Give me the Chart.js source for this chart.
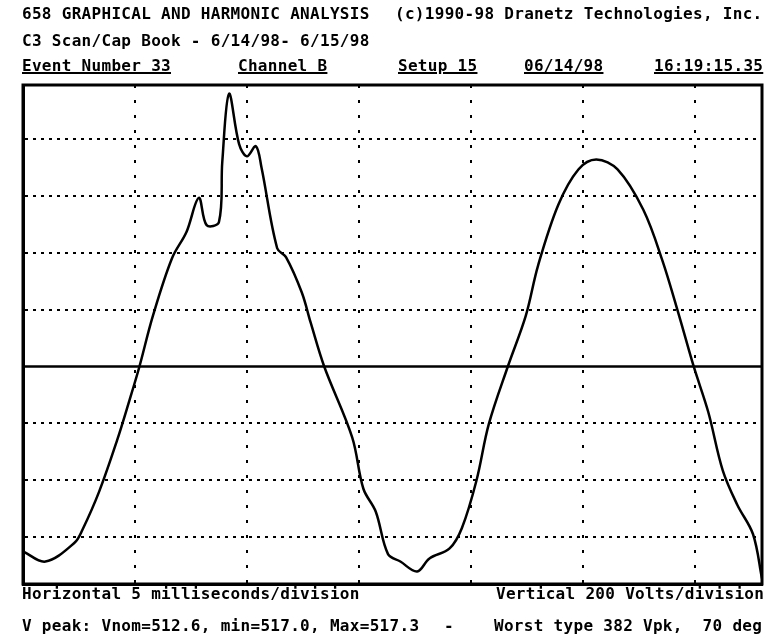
<!DOCTYPE html>
<html>
<head>
<meta charset="utf-8">
<script src="https://cdn.jsdelivr.net/npm/chart.js@4.4.0/dist/chart.umd.min.js"></script>
<style>
  body { margin: 0; background: #fff; }
  #wrap { position: relative; width: 767px; height: 642px; overflow: hidden; }
  #wrap canvas { position: absolute; left: 0; top: 0; }
  .t {
    position: absolute; white-space: pre; color: #000;
    font-family: 'DejaVu Sans Mono', monospace; font-weight: bold;
    font-size: 16px; line-height: 16px; letter-spacing: 0.3px;
  }
  .u { text-decoration: underline; text-decoration-thickness: 2px; }
</style>
</head>
<body>
<div id="wrap">
  <canvas id="scope" width="767" height="642"></canvas>
  <div class="t" style="left:22px;top:6px">658 GRAPHICAL AND HARMONIC ANALYSIS</div>
  <div class="t" style="left:395px;top:6px">(c)1990-98 Dranetz Technologies, Inc.</div>
  <div class="t" style="left:22px;top:33px">C3 Scan/Cap Book - 6/14/98- 6/15/98</div>
  <div class="t u" style="left:22px;top:58px">Event Number 33</div>
  <div class="t u" style="left:238px;top:58px">Channel B</div>
  <div class="t u" style="left:398px;top:58px">Setup 15</div>
  <div class="t u" style="left:524px;top:58px">06/14/98</div>
  <div class="t u" style="left:654px;top:58px">16:19:15.35</div>
  <div class="t" style="left:22px;top:586px">Horizontal 5 milliseconds/division</div>
  <div class="t" style="left:496px;top:586px">Vertical 200 Volts/division</div>
  <div class="t" style="left:22px;top:618px">V peak: Vnom=512.6, min=517.0, Max=517.3</div>
  <div class="t" style="left:444px;top:618px">-</div>
  <div class="t" style="left:494px;top:618px">Worst type 382 Vpk,  70 deg</div>
</div>
<script>
// waveform (ms, volts)
const timeMs = [0, 1.0, 2.3, 2.65, 3.4, 4.2, 4.75, 5.2, 5.8, 6.65, 7.3, 7.85, 8.2, 8.75, 8.9, 9.2,
  9.65, 10.0, 10.4, 10.65, 11.35, 11.75, 12.45, 12.85, 13.45, 14.7, 15.2, 15.75, 16.3,
  16.85, 17.6, 18.15, 19.05, 19.6, 20.25, 20.8, 21.65, 22.45, 23.0, 23.9, 24.8, 25.6, 26.55,
  27.7, 28.55, 29.3, 29.95, 30.6, 31.25, 31.9, 32.6, 33.0];
const voltage = [-650, -686, -620, -575, -440, -260, -120, 0, 178, 380, 473, 593, 497, 508, 721, 959,
  782, 739, 775, 700, 416, 384, 260, 153, 0, -249, -430, -510, -660,
  -686, -721, -675, -640, -568, -401, -203, 0, 178, 355, 568, 693, 728, 693,
  551, 373, 178, 0, -160, -366, -487, -590, -746];

const xRange = [0, 33];        // ms
const yRange = [-765, 990];    // volts
const xTicks = [5, 10, 15, 20, 25, 30];                         // 5 ms/div
const yTicks = [-600, -400, -200, 200, 400, 600, 800];          // 200 V/div
const baseline = [0, 0];

const trace = timeMs.map((t, i) => ({ x: t, y: voltage[i] }));
const zeroLine = xRange.map((t, i) => ({ x: t, y: baseline[i] }));

const frame = {
  id: 'frame',
  afterDraw(chart) {
    const { ctx, chartArea: a } = chart;
    ctx.save();
    ctx.strokeStyle = '#000';
    ctx.lineWidth = 3;
    ctx.strokeRect(a.left, a.top, a.right - a.left, a.bottom - a.top);
    ctx.restore();
  }
};

new Chart(document.getElementById('scope'), {
  type: 'line',
  data: {
    datasets: [
      {
        data: trace,
        borderColor: '#000',
        borderWidth: 2.5,
        pointRadius: 0,
        tension: 0.35,
      },
      {
        data: zeroLine,
        borderColor: '#000',
        borderWidth: 2.5,
        pointRadius: 0,
      },
    ],
  },
  options: {
    responsive: false,
    animation: false,
    events: [],
    layout: { padding: { left: 23, right: 5, top: 85, bottom: 58 } },
    plugins: { legend: { display: false }, tooltip: { enabled: false } },
    scales: {
      x: {
        type: 'linear',
        min: xRange[0],
        max: xRange[1],
        afterBuildTicks: (s) => { s.ticks = xTicks.map((v) => ({ value: v })); },
        ticks: { display: false },
        grid: { color: '#000', lineWidth: 2, drawTicks: false },
        border: { display: true, color: '#000', width: 3, dash: [3, 12] },
      },
      y: {
        min: yRange[0],
        max: yRange[1],
        afterBuildTicks: (s) => { s.ticks = yTicks.map((v) => ({ value: v })); },
        ticks: { display: false },
        grid: { color: '#000', lineWidth: 2, drawTicks: false },
        border: { display: true, color: '#000', width: 3, dash: [3, 5] },
      },
    },
  },
  plugins: [frame],
});
</script>
</body>
</html>
